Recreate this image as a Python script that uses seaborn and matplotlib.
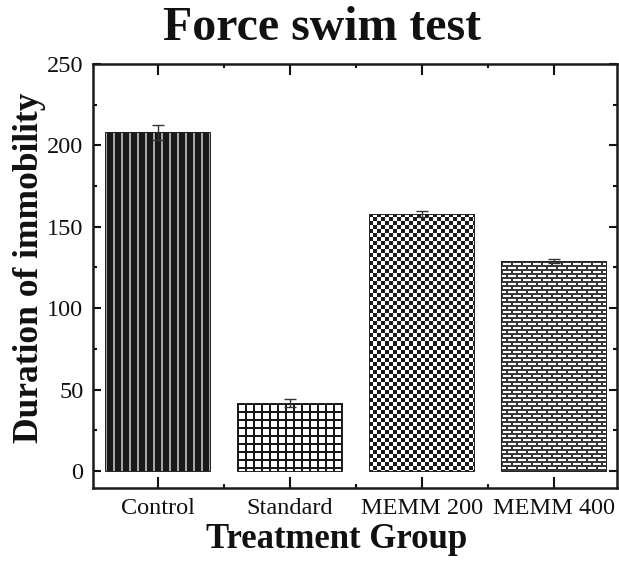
import numpy as np
import pandas as pd
import matplotlib
matplotlib.use("Agg")
import matplotlib.pyplot as plt
import seaborn as sns

groups = ["Control", "Standard", "MEMM 200", "MEMM 400"]
means = [208, 41.5, 158, 129]
errors = [4.5, 2.5, 1.8, 1.2]
y_ticks = [0, 50, 100, 150, 200, 250]

sns.set_theme(style="ticks")
plt.rcParams["font.family"] = ["Liberation Serif", "DejaVu Serif"]
plt.rcParams["text.color"] = "#111111"
plt.rcParams["xtick.color"] = "#111111"
plt.rcParams["ytick.color"] = "#111111"

df = pd.DataFrame({"group": groups, "value": means})

fig = plt.figure(figsize=(6.19, 5.61), dpi=100)
ax = fig.add_axes([93 / 619, 73 / 561, 524 / 619, 424 / 561])

sns.barplot(data=df, x="group", y="value", order=groups, color="white",
            errorbar=None, width=0.8, ax=ax, edgecolor="#222222", linewidth=0.7)
ax.errorbar(np.arange(len(groups)), means, yerr=errors, fmt="none",
            ecolor="#333333", elinewidth=1.0, capsize=4, capthick=1.0, zorder=5)

ax.set_xlim(-0.49, 3.48)
ax.set_ylim(-10.5, 250)
ax.set_yticks(y_ticks)
ax.set_yticks(np.arange(25, 250, 50), minor=True)
ax.set_xticks(np.arange(0.5, 3.5, 1.0), minor=True)
ax.tick_params(which="major", direction="in", length=6, width=1.5,
               top=True, right=True, labelsize=17.5, pad=7, labelcolor="#111111")
ax.tick_params(which="minor", direction="in", length=3, width=1.5,
               top=True, right=True)
ax.tick_params(axis="x", which="major", length=8)
for s in ax.spines.values():
    s.set_linewidth(1.8)
    s.set_color("#1a1a1a")
ax.set_xlabel("")
ax.set_ylabel("")

fig.canvas.draw()

def texture(kind, h, w):
    img = np.ones((h, w, 3))
    yy, xx = np.mgrid[0:h, 0:w]
    if kind == 0:
        img[:] = 0.1
        mask = (xx % 8) < 2
        img[mask] = 0.65
    elif kind == 1:
        mask = ((xx % 8) < 2) | ((yy % 8) < 2)
        img[mask] = 0.1
    elif kind == 2:
        mask = ((xx // 4) + (yy // 4)) % 2 == 0
        img[mask] = 0.1
    else:
        row = yy // 4
        mask = (yy % 4) < 2
        off = np.where(row % 2 == 0, 0, 5)
        mask |= ((xx + off) % 10) < 2
        img[mask] = 0.22
    return img

for i, p in enumerate(ax.patches):
    x0, y0 = p.get_x(), p.get_y()
    w, h = p.get_width(), p.get_height()
    (px0, py0), (px1, py1) = ax.transData.transform([(x0, y0), (x0 + w, y0 + h)])
    pw, ph = int(round(abs(px1 - px0))), int(round(abs(py1 - py0)))
    im = ax.imshow(texture(i, ph, pw), extent=(x0, x0 + w, y0, y0 + h),
                   origin="upper", interpolation="nearest", aspect="auto", zorder=2)
    im.set_clip_path(p)
    p.set_zorder(3)
    p.set_facecolor("none")

ax.set_xlim(-0.49, 3.48)
ax.set_ylim(-10.5, 250)

fig.text(322 / 619, 1 - 28 / 561, "Force swim test", ha="center", va="center",
         fontsize=34.5, fontweight="bold")
fig.text(30 / 619, 1 - 268 / 561, "Duration of immobility", ha="center", va="center",
         rotation=90, fontsize=25.5, fontweight="bold")
fig.text(337 / 619, 1 - 540 / 561, "Treatment Group", ha="center", va="center",
         fontsize=25, fontweight="bold")

fig.savefig("out.png", dpi=100)
